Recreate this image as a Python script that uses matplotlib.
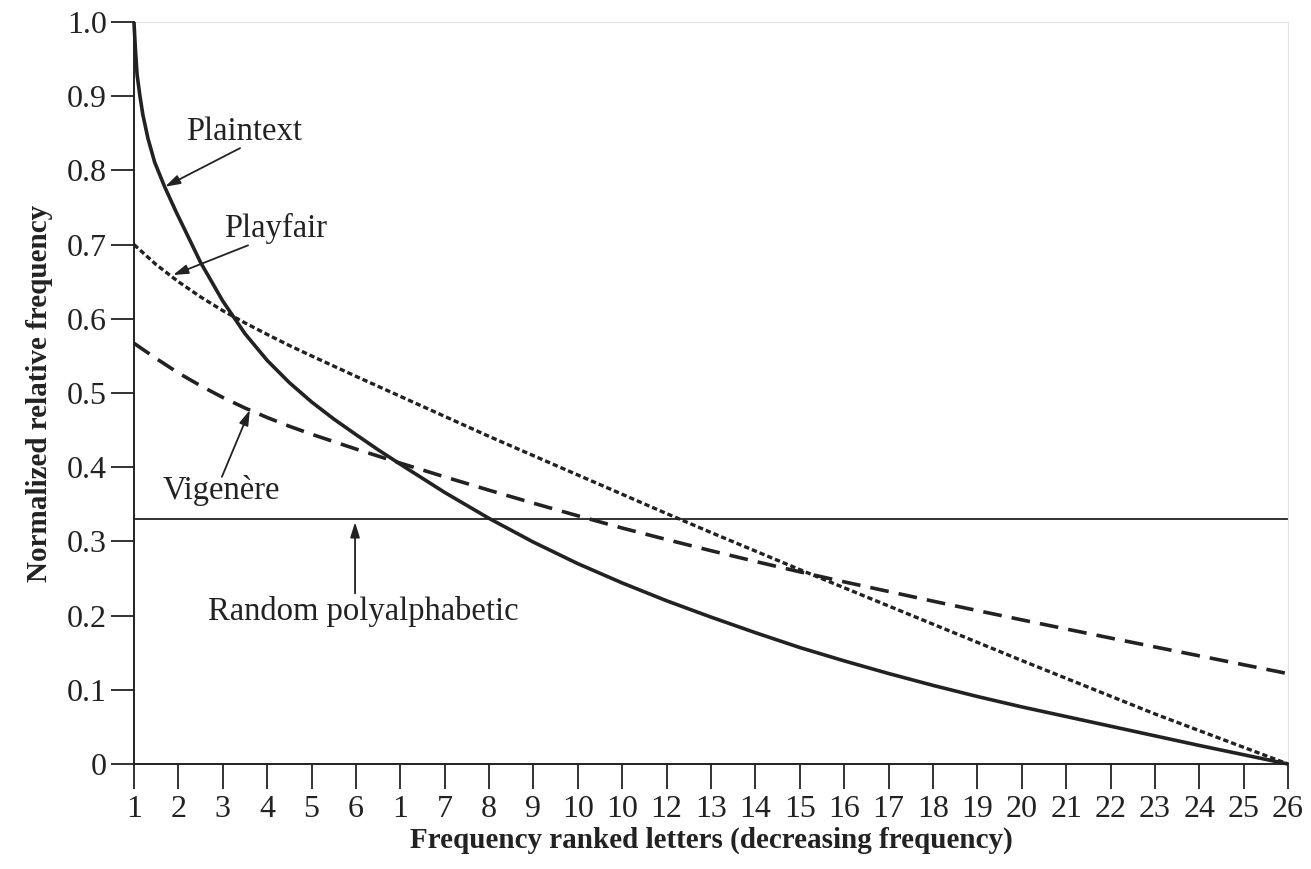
import matplotlib
matplotlib.use("Agg")
import matplotlib.pyplot as plt

# Frequency rank positions (0 = most frequent letter)
rank_positions = list(range(27))
tick_labels = ["1", "2", "3", "4", "5", "6", "1", "7", "8", "9", "10", "10", "12",
               "13", "14", "15", "16", "17", "18", "19", "20", "21", "22", "23",
               "24", "25", "26"]

# Plaintext: denser samples near the steep start
plaintext_x = [0, 0.03, 0.07, 0.13, 0.2, 0.315, 0.466, 0.69, 0.95, 1.25, 1.5, 2, 2.5,
               3, 3.5, 4, 4.5, 5, 5.5, 6, 7, 8, 9, 10, 11, 12, 13, 14, 15, 16, 17,
               18, 19, 20, 21, 22, 23, 24, 25, 26]
plaintext_y = [1.000, 0.965, 0.929, 0.902, 0.875, 0.843, 0.811, 0.778, 0.744, 0.707,
               0.676, 0.624, 0.580, 0.544, 0.514, 0.488, 0.465, 0.444, 0.4235, 0.404,
               0.366, 0.331, 0.299, 0.270, 0.244, 0.220, 0.198, 0.177, 0.157, 0.139,
               0.122, 0.106, 0.091, 0.077, 0.064, 0.051, 0.038, 0.025, 0.0125, 0.0]

playfair_x = [0, 0.5, 1, 1.5, 2, 2.5, 3, 3.5, 4, 5, 6, 7, 8, 9, 10, 11, 12, 13, 14,
              15, 16, 17, 18, 19, 20, 21, 22, 23, 24, 25, 26]
playfair_y = [0.700, 0.673, 0.650, 0.6295, 0.611, 0.5945, 0.579, 0.564, 0.550, 0.5225,
              0.4955, 0.4685, 0.4415, 0.4155, 0.3895, 0.3635, 0.3375, 0.312, 0.287,
              0.262, 0.2375, 0.213, 0.1885, 0.164, 0.1395, 0.1155, 0.0915, 0.0675,
              0.045, 0.0225, 0.0]

vigenere_x = [0, 0.5, 1, 1.5, 2, 2.5, 3, 3.5, 4, 5, 6, 7, 8, 9, 10, 11, 12, 13, 14,
              15, 16, 17, 18, 19, 20, 21, 22, 23, 24, 25, 26]
vigenere_y = [0.567, 0.5465, 0.527, 0.5098, 0.494, 0.4798, 0.467, 0.4552, 0.4445,
              0.4245, 0.4055, 0.387, 0.369, 0.3515, 0.3345, 0.318, 0.3025, 0.2875,
              0.273, 0.259, 0.2455, 0.2325, 0.2195, 0.2068, 0.1943, 0.182, 0.1698,
              0.1578, 0.1458, 0.1338, 0.1218]

random_level = 0.33

ink = "#222222"
serif = ["Liberation Serif", "DejaVu Serif"]

fig = plt.figure(figsize=(13.11, 8.69), dpi=100)
ax = fig.add_axes([0.1022, 0.1208, 0.8803, 0.8539])

ax.plot(plaintext_x, plaintext_y, color=ink, lw=2.6, solid_joinstyle="round",
        solid_capstyle="butt", clip_on=False, zorder=4)
ax.plot(playfair_x, playfair_y, color=ink, lw=2.4, linestyle=(0, (1.6, 0.9)),
        clip_on=False, zorder=3)
ax.plot(vigenere_x, vigenere_y, color=ink, lw=2.6, linestyle=(0, (5.2, 2.8)),
        clip_on=False, zorder=3)
ax.axhline(random_level, color=ink, lw=1.3, zorder=2)

ax.set_xlim(0, 26)
ax.set_ylim(0, 1.0)

ax.set_xticks(rank_positions)
ax.set_xticklabels(tick_labels)
yt = [i / 10 for i in range(11)]
ax.set_yticks(yt)
ax.set_yticklabels(["0"] + [f"{v:.1f}" for v in yt[1:]])

ax.tick_params(axis="x", direction="out", length=18, width=1.3, pad=4,
               colors=ink, labelsize=23)
ax.tick_params(axis="y", direction="out", length=16.5, width=1.3, pad=3,
               colors=ink, labelsize=23)
for lab in ax.get_xticklabels() + ax.get_yticklabels():
    lab.set_fontfamily(serif)

for side in ("left", "bottom"):
    ax.spines[side].set_color(ink)
    ax.spines[side].set_linewidth(1.4)
for side in ("top", "right"):
    ax.spines[side].set_color("#e4e4e4")
    ax.spines[side].set_linewidth(0.8)

ax.set_xlabel("Frequency ranked letters (decreasing frequency)", family=serif,
              fontsize=21, fontweight="bold", color=ink, labelpad=2)
ax.set_ylabel("Normalized relative frequency", family=serif, fontsize=21,
              fontweight="bold", color=ink, labelpad=10)

arrow_style = dict(arrowstyle="-|>,head_length=0.9,head_width=0.28", color=ink,
                   lw=1.3, shrinkA=0, shrinkB=0)

labels = [
    ("Plaintext", (2.49, 0.852), (0.70, 0.778), (2.39, 0.830)),
    ("Playfair", (3.18, 0.722), (0.88, 0.659), (2.57, 0.699)),
    ("Vigenère", (1.96, 0.369), (2.61, 0.477), (1.98, 0.387)),
    ("Random polyalphabetic", (5.16, 0.205), (4.98, 0.326), (4.98, 0.230)),
]
for text, pos, tip, tail in labels:
    ax.text(pos[0], pos[1], text, family=serif, fontsize=23.5, color=ink,
            ha="center", va="center", zorder=6)
    ax.annotate("", xy=tip, xytext=tail, arrowprops=arrow_style, zorder=6)

fig.savefig("out.png", dpi=100, facecolor="white")
